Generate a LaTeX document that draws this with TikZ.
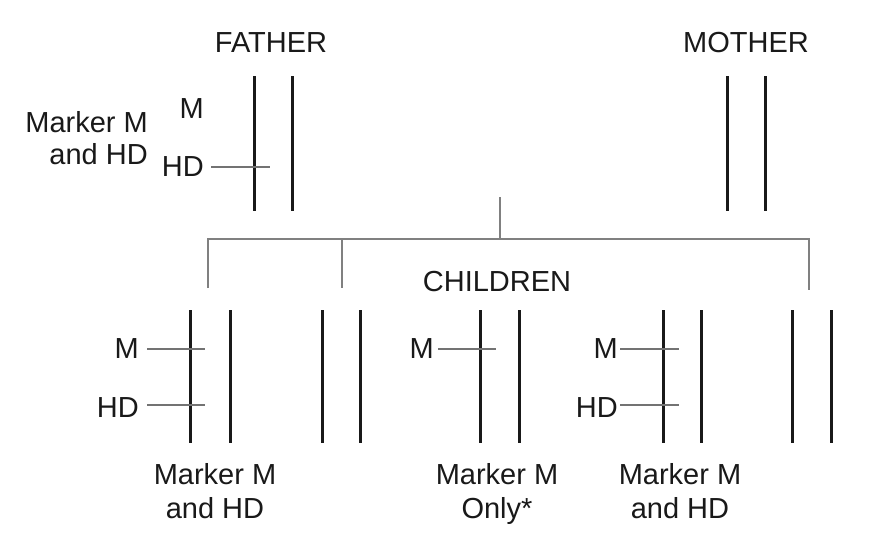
\documentclass[tikz,border=0pt]{standalone}
\usepackage{fontspec}
\setmainfont{Liberation Sans}
\begin{document}
\begin{tikzpicture}[x=1pt,y=-1pt,
  chrom/.style={line width=3pt,black!90},
  bar/.style={line width=1.6pt,black!55},
  conn/.style={line width=1.3pt,black!50},
  lbl/.style={inner sep=0pt,font=\fontsize{29}{34}\selectfont,text=black!90},
  ml/.style={lbl,align=center}]
\useasboundingbox (0,0) rectangle (886,554);
% parents
\node[lbl,anchor=base] (father) at (271,52) {FATHER};
\node[lbl,anchor=base] (mother) at (746,52) {MOTHER};
\foreach \n/\x in {f1/254,f2/292,m1/727,m2/765}{
  \coordinate (\n t) at (\x,76); \coordinate (\n b) at (\x,211);
  \draw[chrom] (\n t) -- (\n b);}
\node[lbl,anchor=base east] (fM) at (204,118) {M};
\node[lbl,anchor=base east] (fHD) at (204,176) {HD};
\coordinate (fHDe) at (270,167);
\draw[bar] (211,167) -- (fHDe);
\node[ml,anchor=base east] (fmark) at (148,132) {Marker M};
\node[lbl,anchor=base east] (fand) at (148,164) {and HD};
% connector
\coordinate (top) at (500,197);
\coordinate (mid) at (500,239);
\coordinate (hl) at (208,239);
\coordinate (hr) at (809,239);
\coordinate (h2) at (342,239);
\coordinate (d1) at (208,288);
\coordinate (d2) at (342,288);
\coordinate (d3) at (809,290);
\draw[conn] (top) -- (mid);
\draw[conn] (d1) -- (hl) -- (hr) -- (d3);
\draw[conn] (h2) -- (d2);
\node[lbl,anchor=base] (children) at (497,291) {CHILDREN};
% children chromosomes
\foreach \n/\x in {a1/190,a2/230,a3/322,a4/360,b1/480,b2/519,c1/663,c2/701,c3/792,c4/831}{
  \coordinate (\n t) at (\x,310); \coordinate (\n b) at (\x,443);
  \draw[chrom] (\n t) -- (\n b);}
% child 1
\node[lbl,anchor=base east] (aM) at (139,358) {M};
\node[lbl,anchor=base east] (aHD) at (139,417) {HD};
\draw[bar] (147,349) -- (205,349);
\draw[bar] (147,405) -- (205,405);
% child 2
\node[lbl,anchor=base east] (bM) at (434,358) {M};
\draw[bar] (438,349) -- (496,349);
% child 3
\node[lbl,anchor=base east] (cM) at (618,358) {M};
\node[lbl,anchor=base east] (cHD) at (618,417) {HD};
\draw[bar] (620,349) -- (679,349);
\draw[bar] (620,405) -- (679,405);
% bottom labels
\node[lbl,anchor=base] (t1a) at (215,484) {Marker M};
\node[lbl,anchor=base] (t1b) at (215,518) {and HD};
\node[lbl,anchor=base] (t2a) at (497,484) {Marker M};
\node[lbl,anchor=base] (t2b) at (497,518) {Only*};
\node[lbl,anchor=base] (t3a) at (680,484) {Marker M};
\node[lbl,anchor=base] (t3b) at (680,518) {and HD};
\end{tikzpicture}
\end{document}
